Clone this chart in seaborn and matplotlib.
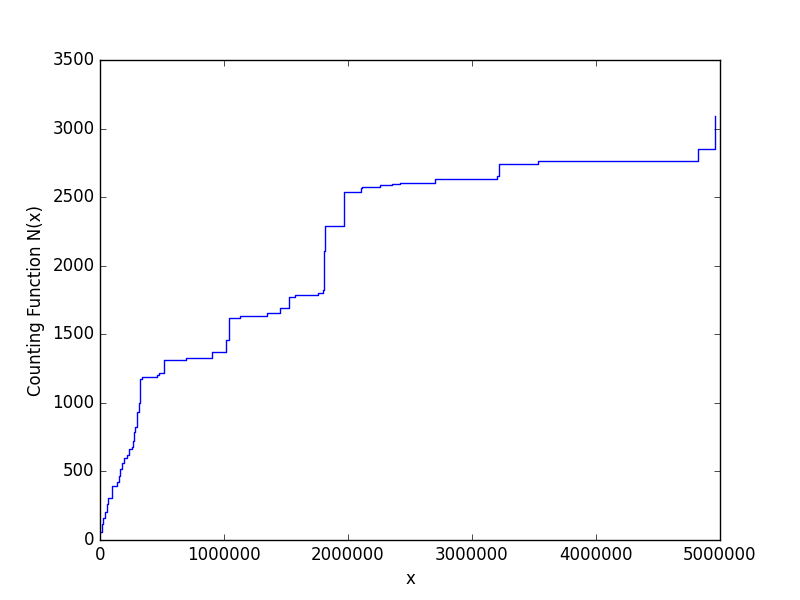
import pandas as pd
import seaborn as sns
import matplotlib
matplotlib.use("Agg")
import matplotlib.pyplot as plt

# step points of the counting function (x where the level starts, value N(x))
x_steps = [0, 13000, 25000, 40000, 55000, 67000, 99000, 137000, 150000, 165000,
           180000, 196000, 220000, 234000, 255000, 268000, 277000, 283000, 298000,
           317000, 322000, 340000, 462000, 478000, 520000, 694000, 900000, 1020000,
           1040000, 1125000, 1345000, 1455000, 1525000, 1570000, 1761000, 1796000,
           1805000, 1812000, 1818000, 1968000, 2102000, 2110000, 2258000, 2352000,
           2419000, 2698000, 3199000, 3219000, 3530000, 4820000, 4960000]
n_values = [60, 120, 160, 207, 260, 305, 396, 425, 470, 520,
            560, 596, 620, 661, 681, 720, 790, 827, 931,
            1000, 1174, 1185, 1200, 1216, 1313, 1328, 1373, 1459,
            1622, 1636, 1653, 1690, 1775, 1789, 1800, 1820,
            2110, 2120, 2290, 2540, 2565, 2575, 2585, 2595,
            2606, 2631, 2655, 2740, 2767, 2850, 3090]

data = pd.DataFrame({"x": x_steps, "N": n_values})

plt.style.use("classic")
fig, ax = plt.subplots(figsize=(8, 6), dpi=100)
sns.lineplot(data=data, x="x", y="N", ax=ax, color="b", linewidth=1.0,
             drawstyle="steps-post", estimator=None, sort=False)

ax.set_xlim(0, 5000000)
ax.set_ylim(0, 3500)
ax.set_xlabel("x")
ax.set_ylabel("Counting Function N(x)")

fig.savefig("out.png", dpi=100)
